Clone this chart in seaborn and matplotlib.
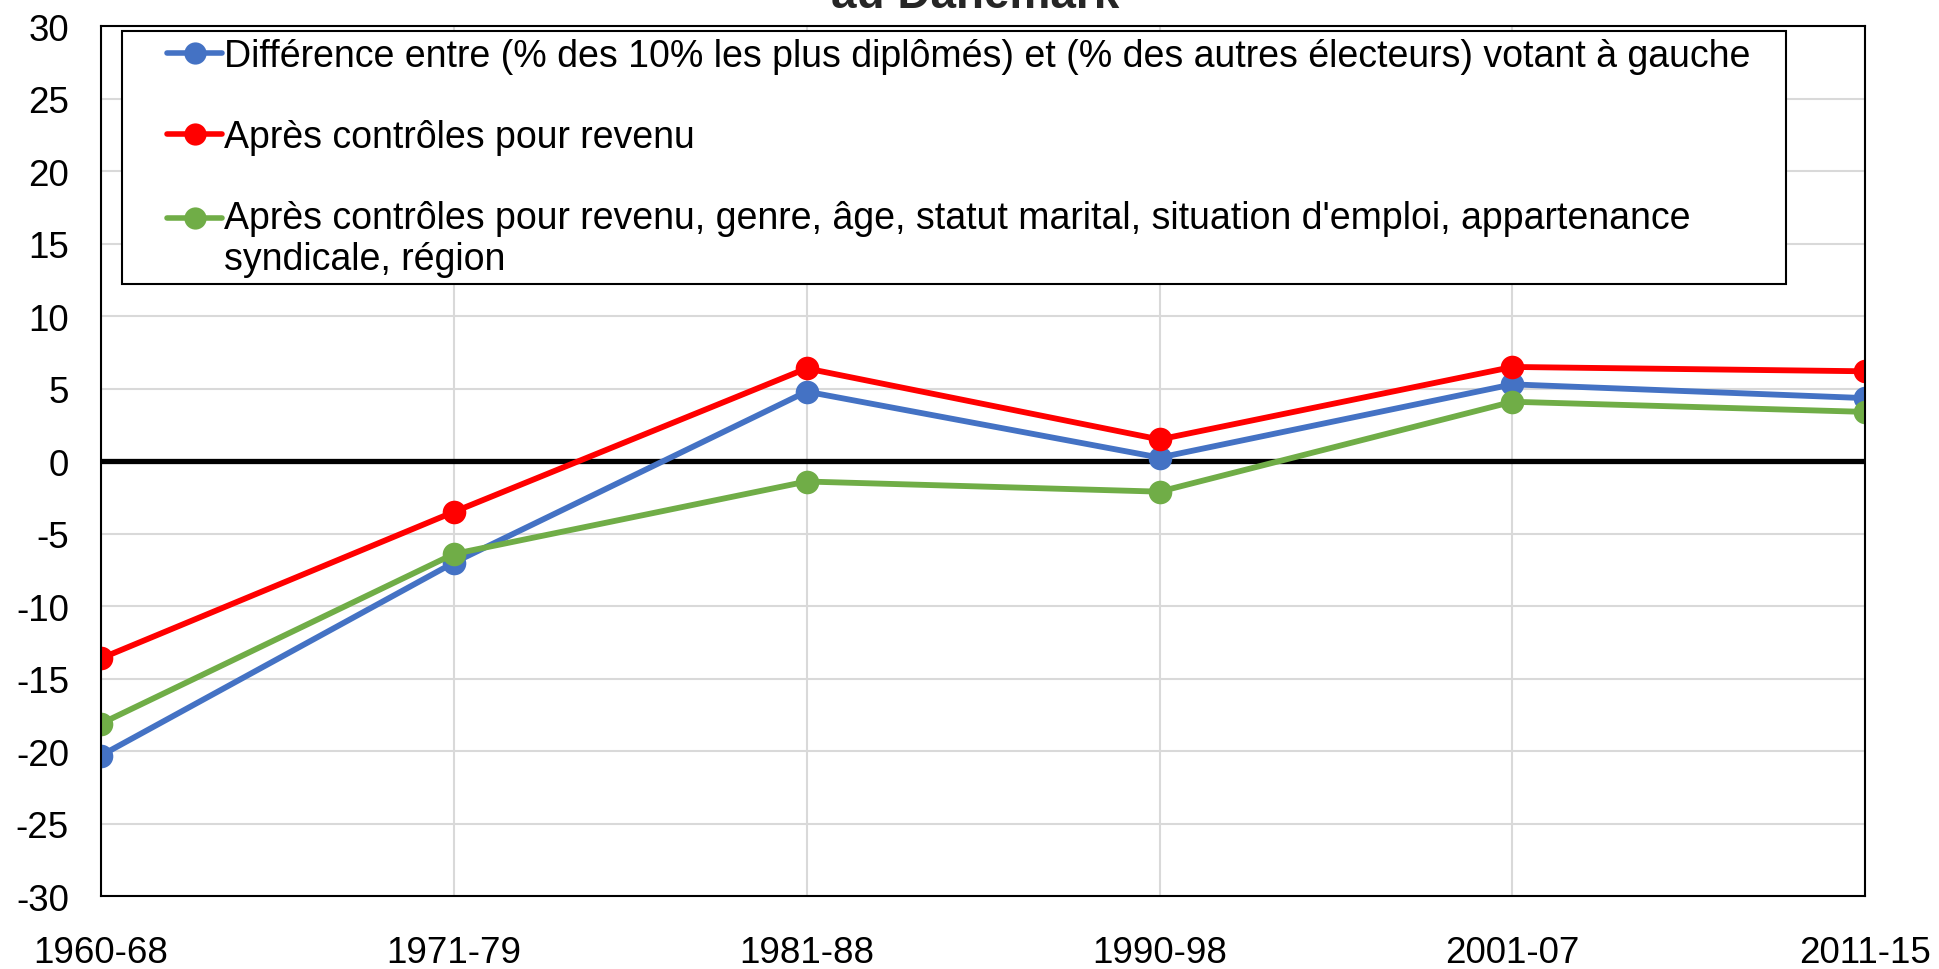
import numpy as np
import pandas as pd
import matplotlib
matplotlib.use("Agg")
import matplotlib.pyplot as plt
from matplotlib.lines import Line2D
from matplotlib.legend_handler import HandlerBase
import seaborn as sns

periodes = ["1960-68", "1971-79", "1981-88", "1990-98", "2001-07", "2011-15"]
diff_brute = [-20.3, -7.0, 4.8, 0.25, 5.3, 4.35]
diff_revenu = [-13.6, -3.5, 6.4, 1.5, 6.5, 6.2]
diff_controles = [-18.1, -6.4, -1.4, -2.1, 4.1, 3.4]

lab1 = "Différence entre (% des 10% les plus diplômés) et (% des autres électeurs) votant à gauche"
lab2 = "Après contrôles pour revenu"
lab3 = ("Après contrôles pour revenu, genre, âge, statut marital, situation d'emploi, appartenance\n"
        "syndicale, région")
couleurs = ["#4472C4", "#FF0000", "#70AD47"]

sns.set_theme(style="white")
plt.rcParams['font.family'] = ['Liberation Sans', 'DejaVu Sans']
plt.rcParams['axes.unicode_minus'] = False


# legend handle: short line + dot on the right part of the handle box
class Poignee(HandlerBase):
    def __init__(self, couleur, dy=0.0, seg=40.0):
        super().__init__()
        self.couleur = couleur
        self.dy = dy
        self.seg = seg

    def create_artists(self, legend, orig, xdescent, ydescent, width, height, fontsize, trans):
        y = (height - ydescent) / 2 + self.dy * fontsize
        x0 = width - self.seg
        ligne = Line2D([x0, width], [y, y], color=self.couleur, lw=4,
                       solid_capstyle="round", transform=trans)
        point = Line2D([(x0 + width) / 2], [y], marker="o", ms=16, mew=0,
                       color=self.couleur, linestyle="none", transform=trans)
        return [ligne, point]


df = pd.DataFrame({
    "periode": periodes * 3,
    "valeur": diff_brute + diff_revenu + diff_controles,
    "serie": [lab1] * 6 + [lab2] * 6 + [lab3] * 6,
})

fig, ax = plt.subplots(figsize=(19.39, 9.70), dpi=100)
fig.subplots_adjust(left=0.052, right=0.962, top=0.972, bottom=0.075)

sns.lineplot(data=df, x="periode", y="valeur", hue="serie",
             palette=couleurs, marker="o",
             markersize=17, markeredgewidth=0, linewidth=4.2, ax=ax, sort=False)

ax.axhline(0, color="black", linewidth=3.8, zorder=1.5)
ax.set_xlim(0, 5)
ax.set_ylim(-30, 30)
ax.set_yticks(np.arange(-30, 31, 5))
ax.grid(True, color="#D9D9D9", linewidth=1.5)
ax.set_axisbelow(True)
for s in ax.spines.values():
    s.set_color("black")
    s.set_linewidth(1.5)
ax.tick_params(axis="both", length=0, labelsize=26.5, colors="black")
ax.tick_params(axis="x", pad=28)
ax.tick_params(axis="y", pad=23)
ax.set_xlabel("")
ax.set_ylabel("")

handles, labels = ax.get_legend_handles_labels()
hmap = {handles[0]: Poignee(couleurs[0]),
        handles[1]: Poignee(couleurs[1]),
        handles[2]: Poignee(couleurs[2], dy=0.58)}
leg = ax.legend(handles, labels, handler_map=hmap,
                loc="upper left", bbox_to_anchor=(0.0119, 0.7, 0.943, 0.2943),
                mode="expand", fontsize=27, frameon=True, fancybox=False,
                edgecolor="black", framealpha=1, handlelength=2.5,
                handletextpad=0.05, labelspacing=1.2, borderpad=0.18,
                borderaxespad=0)
leg.get_frame().set_linewidth(1.5)
for t in leg.get_texts():
    t.set_color("black")

fig.text(0.503, 0.992, "au Danemark", ha="center", va="baseline",
         fontsize=33, fontweight="bold")

fig.savefig("out.png", dpi=100)
